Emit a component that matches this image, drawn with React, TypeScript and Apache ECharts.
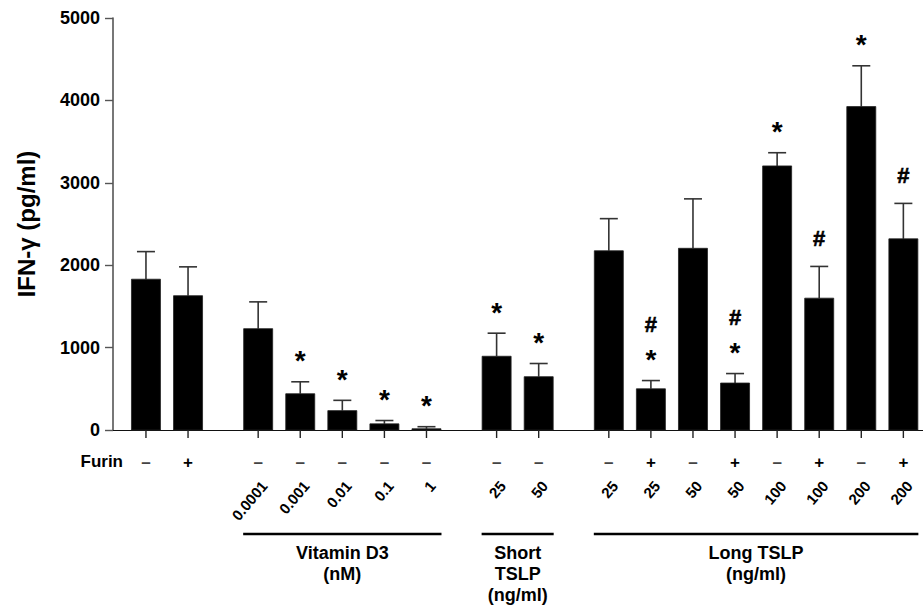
import React, { useEffect, useRef } from "react";
import * as echarts from "echarts";

// ---- data ----
const groupSizes = [2, 5, 2, 8];
const furin = ["–", "+", "–", "–", "–", "–", "–", "–", "–", "–", "+", "–", "+", "–", "+", "–", "+"];
const doseLabels = ["", "", "0.0001", "0.001", "0.01", "0.1", "1", "25", "50", "25", "25", "50", "50", "100", "100", "200", "200"];
const values = [1830, 1630, 1230, 440, 235, 75, 15, 895, 647, 2175, 500, 2205, 570, 3205, 1600, 3925, 2320];
const errors = [335, 350, 325, 145, 125, 40, 25, 280, 160, 390, 100, 600, 115, 160, 385, 495, 430];
const marks: string[][] = [[], [], [], ["*"], ["*"], ["*"], ["*"], ["*"], ["*"], [], ["*", "#"], [], ["*", "#"], ["*"], ["#"], ["*"], ["#"]];
const groupLabels = [
  { group: 1, text: "Vitamin D3\n(nM)" },
  { group: 2, text: "Short\nTSLP\n(ng/ml)" },
  { group: 3, text: "Long TSLP\n(ng/ml)" },
];
const yTicks = { min: 0, max: 5000, interval: 1000 };

const FONT = "'Liberation Sans', Arial, sans-serif";

export default function App() {
  const ref = useRef<HTMLDivElement>(null);
  useEffect(() => {
    document.body.style.margin = "0";
    if (!ref.current) return;
    const chart = echarts.init(ref.current, undefined, { renderer: "svg" });

    // positions from group structure: slot spacing 3 units, group gap 5 units
    const positions: number[] = [];
    const groupRanges: [number, number][] = [];
    let p = 0;
    groupSizes.forEach((n, g) => {
      if (g > 0) p += 2;
      const start = p;
      for (let k = 0; k < n; k++) {
        positions.push(p);
        if (k < n - 1) p += 3;
      }
      groupRanges.push([start, p]);
      p += 3;
    });

    const barData = values.map((v, i) => [positions[i], v, errors[i]]);
    const groupData = groupLabels.map((g) => [groupRanges[g.group][0], groupRanges[g.group][1]]);

    const bold = (size: number) => `bold ${size}px ${FONT}`;

    chart.setOption({
      animation: false,
      grid: { left: 113, right: 0, top: 18, bottom: 176 },
      xAxis: {
        type: "value",
        min: -2.35,
        max: 55.4,
        axisLine: { show: true, onZero: false, lineStyle: { color: "#111", width: 1.2 } },
        axisTick: { show: false },
        axisLabel: { show: false },
        splitLine: { show: false },
      },
      yAxis: {
        type: "value",
        min: yTicks.min,
        max: yTicks.max,
        interval: yTicks.interval,
        name: "IFN-γ (pg/ml)",
        nameLocation: "middle",
        nameRotate: 90,
        nameGap: 75,
        nameTextStyle: { fontFamily: FONT, fontWeight: "bold", fontSize: 24, color: "#000" },
        axisLine: { show: true, onZero: false, lineStyle: { color: "#555", width: 1.6 } },
        axisTick: { show: true, length: 8, lineStyle: { color: "#555", width: 1.4 } },
        axisLabel: {
          margin: 13,
          fontFamily: FONT,
          fontWeight: "bold",
          fontSize: 18,
          color: "#000",
          formatter: (v: number) => String(v),
        },
        splitLine: { show: false },
      },
      graphic: [
        {
          type: "text",
          right: 923 - 123,
          top: 453,
          style: { text: "Furin", font: bold(17), fill: "#000" },
        },
      ],
      series: [
        {
          type: "custom",
          data: barData,
          renderItem: (params: any, api: any) => {
            const i = params.dataIndex;
            const x = api.value(0);
            const v = api.value(1);
            const e = api.value(2);
            const base = api.coord([x, 0]);
            const top = api.coord([x, v]);
            const et = api.coord([x, v + e]);
            const hw = 14.5;
            const cap = 9;
            const children: any[] = [
              { type: "line", shape: { x1: top[0], y1: top[1], x2: et[0], y2: et[1] }, style: { stroke: "#333", lineWidth: 1.6 } },
              { type: "line", shape: { x1: et[0] - cap, y1: et[1], x2: et[0] + cap, y2: et[1] }, style: { stroke: "#333", lineWidth: 1.6 } },
              { type: "rect", shape: { x: base[0] - hw, y: top[1], width: hw * 2, height: base[1] - top[1] }, style: { fill: "#000", stroke: "#222", lineWidth: 0.8 } },
              { type: "line", shape: { x1: base[0], y1: base[1], x2: base[0], y2: base[1] + 8 }, style: { stroke: "#222", lineWidth: 1.4 } },
              {
                type: "text",
                x: base[0],
                y: base[1] + 32,
                style: {
                  text: furin[i],
                  align: "center",
                  verticalAlign: "middle",
                  font: bold(17),
                  fill: furin[i] === "+" ? "#000" : "#444",
                },
              },
            ];
            if (doseLabels[i]) {
              children.push({
                type: "text",
                x: base[0] + 6,
                y: base[1] + 53,
                rotation: (50 * Math.PI) / 180,
                style: { text: doseLabels[i], align: "right", verticalAlign: "middle", font: bold(15), fill: "#000" },
              });
            }
            marks[i].forEach((m, k) => {
              const yc = et[1] - 28 * (k + 1);
              children.push({
                type: "text",
                x: et[0],
                y: m === "*" ? yc + 7 : yc,
                style: { text: m, align: "center", verticalAlign: "middle", font: m === "*" ? bold(28) : bold(22), fill: "#000", stroke: m === "#" ? "#000" : undefined, lineWidth: m === "#" ? 0.6 : 0 },
              });
            });
            return { type: "group", children };
          },
          z: 3,
        },
        {
          type: "custom",
          data: groupData,
          renderItem: (params: any, api: any) => {
            const i = params.dataIndex;
            const a = api.coord([api.value(0), 0]);
            const b = api.coord([api.value(1), 0]);
            const y = a[1] + 104;
            return {
              type: "group",
              children: [
                { type: "line", shape: { x1: a[0] - 15, y1: y, x2: b[0] + 15, y2: y }, style: { stroke: "#000", lineWidth: 2.4 } },
                {
                  type: "text",
                  x: (a[0] + b[0]) / 2,
                  y: a[1] + 112,
                  style: { text: groupLabels[i].text, align: "center", verticalAlign: "top", lineHeight: 21, font: bold(18), fill: "#000" },
                },
              ],
            };
          },
        },
      ],
    });
    return () => chart.dispose();
  }, []);
  return <div ref={ref} style={{ width: 923, height: 606 }} />;
}
